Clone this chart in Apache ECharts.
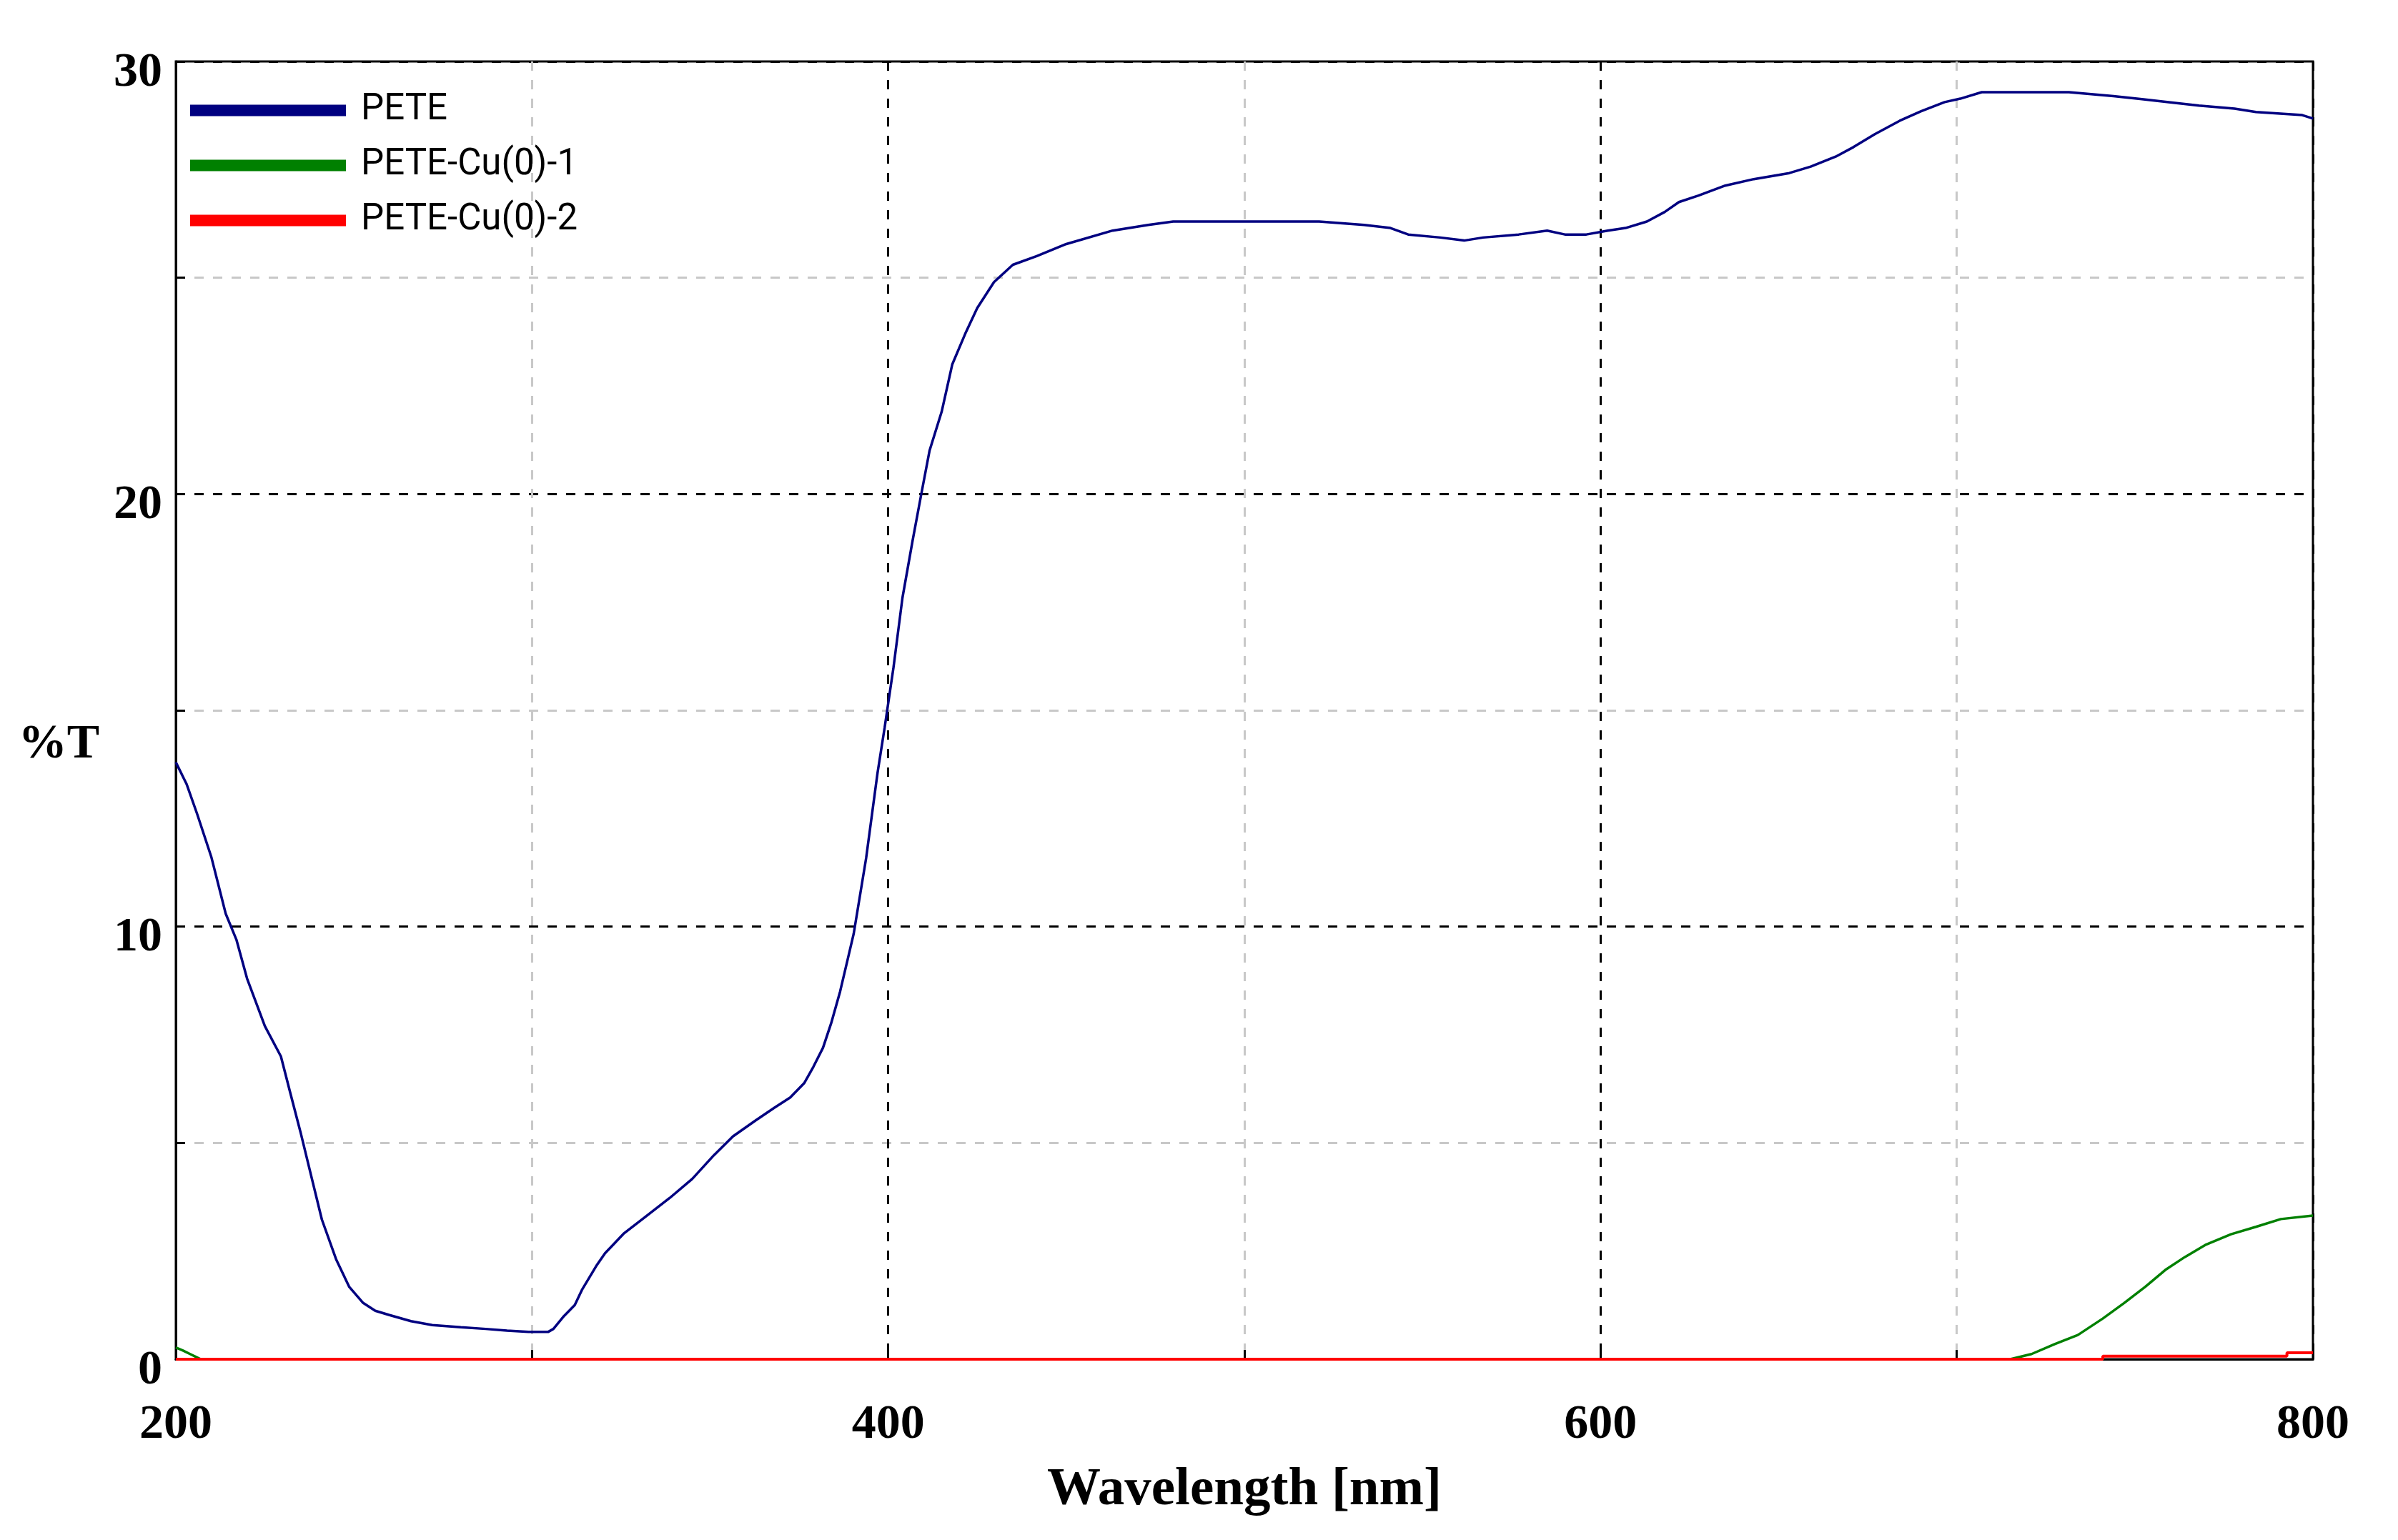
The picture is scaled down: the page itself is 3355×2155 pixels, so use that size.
<!DOCTYPE html>
<html>
<head>
<meta charset="utf-8">
<title>%T vs Wavelength</title>
<script src="https://cdn.jsdelivr.net/npm/echarts@6/dist/echarts.min.js"></script>
<style>
  html, body { margin: 0; padding: 0; background: #fff; }
  #chart { width: 3355px; height: 2155px; }
</style>
</head>
<body>
<div id="chart"></div>
<script>
// series names
const seriesNames = ['PETE', 'PETE-Cu(0)-1', 'PETE-Cu(0)-2']

// PETE: wavelength (nm) and %T
const peteWl = [200, 203, 206, 210, 214, 217, 220, 225, 229.5, 232, 235, 238, 241, 245, 248.7, 252.6, 256, 260, 266, 272, 280, 287, 293, 299, 304.5, 306, 309, 312, 314, 318, 320.5, 325.7, 331.8, 338.7, 345, 351, 356.4, 362.6, 368, 372.5, 376.4, 379, 381.7, 384, 386.5, 388.5, 390.3, 393.8, 397, 399, 401.5, 404, 406.8, 409.2, 411.6, 415, 418, 421.6, 425, 429.7, 435, 441.7, 450, 463, 473, 480, 500, 521, 533.6, 541, 546, 555, 561.7, 567, 577, 585, 590, 596, 602, 607, 613, 618, 622, 627.5, 635, 643, 648, 653, 659, 666, 671, 677, 684, 690, 696.6, 701, 707, 720, 731.5, 744, 752, 759.5, 768, 778, 784, 797, 800]
const peteT = [13.8, 13.3, 12.6, 11.6, 10.3, 9.7, 8.8, 7.7, 7.0, 6.2, 5.25, 4.24, 3.23, 2.31, 1.67, 1.3, 1.12, 1.02, 0.88, 0.79, 0.74, 0.7, 0.66, 0.63, 0.63, 0.7, 1.0, 1.25, 1.6, 2.15, 2.45, 2.9, 3.29, 3.73, 4.17, 4.71, 5.15, 5.51, 5.81, 6.05, 6.38, 6.76, 7.2, 7.77, 8.5, 9.2, 9.83, 11.58, 13.55, 14.6, 16.0, 17.6, 18.9, 19.96, 21.0, 21.9, 23.0, 23.7, 24.3, 24.9, 25.3, 25.5, 25.78, 26.09, 26.22, 26.3, 26.3, 26.3, 26.22, 26.15, 26.0, 25.93, 25.86, 25.93, 26.0, 26.09, 26.0, 26.0, 26.09, 26.15, 26.3, 26.52, 26.75, 26.9, 27.13, 27.28, 27.35, 27.42, 27.57, 27.8, 28.02, 28.32, 28.63, 28.85, 29.06, 29.14, 29.29, 29.29, 29.29, 29.2, 29.13, 29.06, 28.98, 28.91, 28.83, 28.76, 28.68]

// PETE-Cu(0)-1
const cu1Wl = [200, 202, 204, 206, 207, 715, 721, 727.5, 734, 741, 747, 753, 758.5, 764, 770, 777, 784, 791, 800]
const cu1T = [0.27, 0.2, 0.12, 0.04, 0, 0, 0.12, 0.35, 0.56, 0.94, 1.3, 1.68, 2.06, 2.36, 2.65, 2.89, 3.06, 3.24, 3.32]

// PETE-Cu(0)-2
const cu2Wl = [200, 741, 741, 792.7, 792.7, 800]
const cu2T = [0, 0, 0.07, 0.07, 0.15, 0.15]

const colors = ['#000080', '#008000', '#ff0000']

const pairs = (xs, ys) => xs.map((x, i) => [x, ys[i]])

const serifFont = '"Liberation Serif", "Times New Roman", serif'

const chart = echarts.init(document.getElementById('chart'))

const option = {
  animation: false,
  backgroundColor: '#fff',
  color: colors,
  grid: {
    left: 246,
    right: 119,
    top: 86,
    bottom: 253,
    show: true,
    borderColor: '#000',
    borderWidth: 3,
    containLabel: false
  },
  legend: {
    orient: 'vertical',
    left: 266,
    top: 129,
    padding: 0,
    itemWidth: 218,
    itemHeight: 16,
    itemGap: 26,
    icon: 'rect',
    data: seriesNames,
    textStyle: {
      fontFamily: 'Roboto, "Liberation Sans", sans-serif',
      fontSize: 51,
      lineHeight: 51,
      color: '#000',
      padding: [0, 0, 0, 16]
    }
  },
  xAxis: {
    type: 'value',
    min: 200,
    max: 800,
    interval: 100,
    name: 'Wavelength [nm]',
    nameLocation: 'middle',
    nameGap: 146,
    nameTextStyle: {
      fontFamily: serifFont,
      fontWeight: 'bold',
      fontSize: 75,
      color: '#000'
    },
    axisLine: { show: true, lineStyle: { color: '#000', width: 3 } },
    axisTick: { show: true, inside: true, length: 13, lineStyle: { color: '#000', width: 3 } },
    axisLabel: {
      margin: 58,
      fontFamily: serifFont,
      fontWeight: 'bold',
      fontSize: 68,
      color: '#000',
      formatter: v => (v % 200 === 0 ? String(v) : '')
    },
    splitLine: {
      show: true,
      lineStyle: { color: ['#000', '#c8c8c8'], width: 3, type: [13, 13] }
    }
  },
  yAxis: {
    type: 'value',
    min: 0,
    max: 30,
    interval: 5,
    name: '%T',
    nameLocation: 'middle',
    nameRotate: 0,
    nameGap: 107,
    nameTextStyle: {
      fontFamily: serifFont,
      fontWeight: 'bold',
      fontSize: 68,
      color: '#000',
      verticalAlign: 'top',
      lineHeight: 96
    },
    axisLine: { show: true, lineStyle: { color: '#000', width: 3 } },
    axisTick: { show: true, inside: true, length: 13, lineStyle: { color: '#000', width: 3 } },
    axisLabel: {
      margin: 19,
      fontFamily: serifFont,
      fontWeight: 'bold',
      fontSize: 68,
      color: '#000',
      verticalAlign: 'top',
      lineHeight: 32,
      formatter: v => (v % 10 === 0 ? String(v) : '')
    },
    splitLine: {
      show: true,
      lineStyle: { color: ['#000', '#c8c8c8'], width: 3, type: [13, 13] }
    }
  },
  series: [
    {
      name: seriesNames[0],
      type: 'line',
      data: pairs(peteWl, peteT),
      showSymbol: false,
      clip: false,
      lineStyle: { width: 3.5, color: colors[0] }
    },
    {
      name: seriesNames[1],
      type: 'line',
      data: pairs(cu1Wl, cu1T),
      showSymbol: false,
      clip: false,
      lineStyle: { width: 3.5, color: colors[1] }
    },
    {
      name: seriesNames[2],
      type: 'line',
      data: pairs(cu2Wl, cu2T),
      showSymbol: false,
      clip: false,
      lineStyle: { width: 4, color: colors[2] }
    }
  ]
}

chart.setOption(option)
</script>
</body>
</html>
